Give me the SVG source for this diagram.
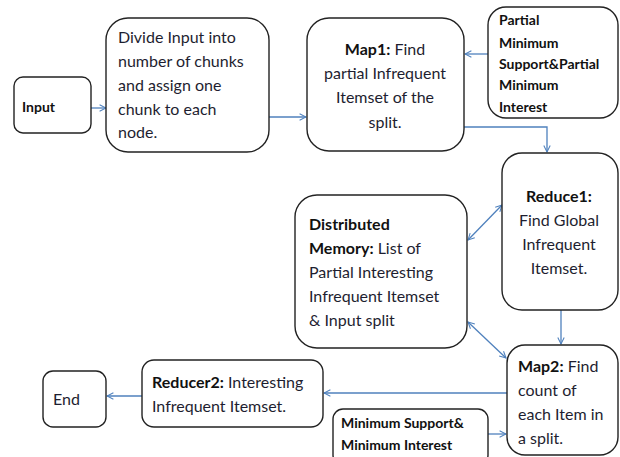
<svg xmlns="http://www.w3.org/2000/svg" width="620" height="457" viewBox="0 0 620 457">
<style>
.box{fill:#fff;stroke:#222;stroke-width:1.4}
.t{font-family:Lato,"Liberation Sans",sans-serif;font-size:16px;fill:#1e1e30}
.b{font-weight:bold;fill:#111}
.sb{font-family:Lato,"Liberation Sans",sans-serif;font-size:14px;font-weight:bold;fill:#111}
.c{fill:none;stroke:#4f81bd;stroke-width:1.3}
</style>
<defs>
<marker id="ah" viewBox="0 0 10 10" refX="9" refY="5" markerWidth="8" markerHeight="8" markerUnits="userSpaceOnUse" orient="auto-start-reverse">
<path d="M1,1 L9,5 L1,9" fill="none" stroke="#4f81bd" stroke-width="1.3"/>
</marker>
</defs>
<rect width="620" height="457" fill="#fff"/>
<g id="connectors">
<line class="c" x1="91" y1="108" x2="106" y2="108" marker-end="url(#ah)"/>
<line class="c" x1="269" y1="117" x2="306" y2="117" marker-end="url(#ah)"/>
<line class="c" x1="488" y1="54" x2="465" y2="54" marker-end="url(#ah)"/>
<polyline class="c" points="463,127 547,127 547,152" marker-end="url(#ah)"/>
<line class="c" x1="468" y1="240" x2="502" y2="205" marker-start="url(#ah)" marker-end="url(#ah)"/>
<line class="c" x1="561" y1="310" x2="561" y2="344" marker-end="url(#ah)"/>
<line class="c" x1="468" y1="322" x2="506" y2="358" marker-start="url(#ah)" marker-end="url(#ah)"/>
<line class="c" x1="507" y1="393" x2="324" y2="393" marker-end="url(#ah)"/>
<line class="c" x1="488" y1="434" x2="506" y2="434" marker-end="url(#ah)"/>
<line class="c" x1="142" y1="396" x2="107" y2="396" marker-end="url(#ah)"/>
</g>
<g id="input">
<rect class="box" x="14" y="77" width="77" height="56" rx="9"/>
<text class="sb" x="22" y="112">Input</text>
</g>
<g id="divide">
<rect class="box" x="106" y="18" width="163" height="134" rx="22"/>
<text class="t" x="118" y="43">Divide Input into</text>
<text class="t" x="118" y="67">number of chunks</text>
<text class="t" x="118" y="91">and assign one</text>
<text class="t" x="118" y="115">chunk to each</text>
<text class="t" x="118" y="138">node.</text>
</g>
<g id="map1">
<rect class="box" x="307" y="18" width="157" height="133" rx="22"/>
<text class="t" text-anchor="middle" x="385" y="55"><tspan class="b">Map1:</tspan> Find</text>
<text class="t" text-anchor="middle" x="385" y="79">partial Infrequent</text>
<text class="t" text-anchor="middle" x="385" y="103">Itemset of the</text>
<text class="t" text-anchor="middle" x="385" y="128">split.</text>
</g>
<g id="partial">
<rect class="box" x="488" y="7" width="130" height="111" rx="18"/>
<text class="sb" x="499" y="25">Partial</text>
<text class="sb" x="499" y="48">Minimum</text>
<text class="sb" x="499" y="69">Support&amp;Partial</text>
<text class="sb" x="499" y="90">Minimum</text>
<text class="sb" x="499" y="112">Interest</text>
</g>
<g id="reduce1">
<rect class="box" x="502" y="153" width="116" height="157" rx="20"/>
<text class="t b" text-anchor="middle" x="559" y="202">Reduce1:</text>
<text class="t" text-anchor="middle" x="559" y="226">Find Global</text>
<text class="t" text-anchor="middle" x="559" y="250">Infrequent</text>
<text class="t" text-anchor="middle" x="559" y="274">Itemset.</text>
</g>
<g id="memory">
<rect class="box" x="295" y="195" width="172" height="153" rx="22"/>
<text class="t b" x="309" y="230">Distributed</text>
<text class="t" x="309" y="254"><tspan class="b">Memory:</tspan> List of</text>
<text class="t" x="309" y="278">Partial Interesting</text>
<text class="t" x="309" y="302">Infrequent Itemset</text>
<text class="t" x="309" y="326">&amp; Input split</text>
</g>
<g id="map2">
<rect class="box" x="507" y="345" width="111" height="110" rx="18"/>
<text class="t" x="518" y="372"><tspan class="b">Map2:</tspan> Find</text>
<text class="t" x="518" y="396">count of</text>
<text class="t" x="518" y="420">each Item in</text>
<text class="t" x="518" y="444">a split.</text>
</g>
<g id="reducer2">
<rect class="box" x="142" y="360" width="181" height="67" rx="12"/>
<text class="t" x="152" y="388"><tspan class="b">Reducer2:</tspan> Interesting</text>
<text class="t" x="152" y="412">Infrequent Itemset.</text>
</g>
<g id="end">
<rect class="box" x="43" y="371" width="63" height="56" rx="10"/>
<text class="t" x="53" y="405">End</text>
</g>
<g id="minsupport">
<rect class="box" x="333" y="409" width="155" height="56" rx="10"/>
<text class="sb" x="341" y="428">Minimum Support&amp;</text>
<text class="sb" x="341" y="450">Minimum Interest</text>
</g>
</svg>
